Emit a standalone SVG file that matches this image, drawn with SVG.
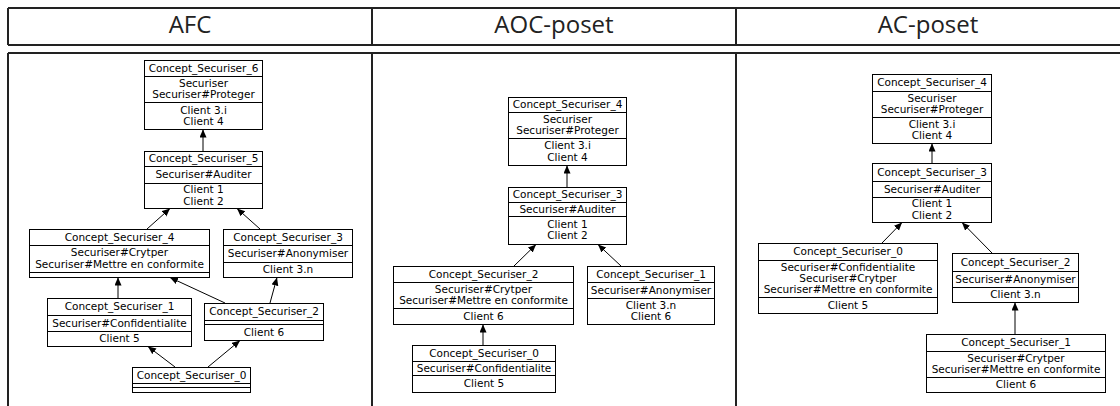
<svg xmlns="http://www.w3.org/2000/svg" width="1120" height="406" viewBox="0 0 1120 406">
<style>
.grid{stroke:#222;stroke-width:2;fill:none}
.hd{font-family:"Open Sans","Noto Sans",sans-serif;font-weight:400;font-size:24px;fill:#222;text-anchor:middle}
.box{fill:#fff;stroke:#000;stroke-width:1}
.sep{stroke:#000;stroke-width:1}
.t{font-family:"DejaVu Sans",sans-serif;font-size:10.5px;fill:#000;text-anchor:middle}
.edge{stroke:#000;stroke-width:1;fill:none;marker-end:url(#arr)}
</style>
<defs>
<marker id="arr" markerUnits="userSpaceOnUse" markerWidth="9" markerHeight="8" refX="8" refY="3.5" orient="auto">
<path d="M0,0 L8,3.5 L0,7 z" fill="#000"/>
</marker>
</defs>
<rect width="1120" height="406" fill="#fff"/>
<g id="table">
<path class="grid" d="M8,8 H1122 M8,45 H1122 M8,8 V45 M372,8 V45 M736,8 V45"/>
<path class="grid" d="M8,53 H1122 M8,53 V408 M372,53 V408 M736,53 V408"/>
<text class="hd" x="190" y="33">AFC</text>
<text class="hd" x="554" y="33">AOC-poset</text>
<text class="hd" x="928" y="33">AC-poset</text>
</g>
<g id="connectors">
<line class="edge" x1="203" y1="151" x2="203" y2="129.5"/>
<line class="edge" x1="147" y1="229" x2="170" y2="208.5"/>
<line class="edge" x1="260" y1="229" x2="237" y2="208.5"/>
<line class="edge" x1="118" y1="298" x2="118" y2="277.5"/>
<line class="edge" x1="225" y1="303" x2="170" y2="277.5"/>
<line class="edge" x1="270" y1="303" x2="277" y2="277.5"/>
<line class="edge" x1="175" y1="367" x2="148" y2="346.5"/>
<line class="edge" x1="208" y1="367" x2="240" y2="340.5"/>
<line class="edge" x1="567" y1="187" x2="567" y2="165.5"/>
<line class="edge" x1="514" y1="266" x2="536" y2="244.5"/>
<line class="edge" x1="621" y1="266" x2="598" y2="244.5"/>
<line class="edge" x1="483" y1="345" x2="483" y2="324.5"/>
<line class="edge" x1="932" y1="163" x2="932" y2="143.5"/>
<line class="edge" x1="882" y1="243" x2="902" y2="222.5"/>
<line class="edge" x1="992" y1="253" x2="962" y2="222.5"/>
<line class="edge" x1="1015" y1="334" x2="1015" y2="302.5"/>
</g>
<g id="afc_c6">
<rect class="box" x="144.5" y="60.5" width="118" height="69"/>
<path class="sep" d="M144.5,76.5 H262.5 M144.5,102.5 H262.5"/>
<text class="t" x="203.5" y="71.5">Concept_Securiser_6</text>
<text class="t" x="203.5" y="87.1">Securiser</text>
<text class="t" x="203.5" y="98.4">Securiser#Proteger</text>
<text class="t" x="203.5" y="113.6">Client 3.i</text>
<text class="t" x="203.5" y="124.9">Client 4</text>
</g>
<g id="afc_c5">
<rect class="box" x="144.5" y="151.5" width="118" height="57"/>
<path class="sep" d="M144.5,166.5 H262.5 M144.5,183.5 H262.5"/>
<text class="t" x="203.5" y="162">Concept_Securiser_5</text>
<text class="t" x="203.5" y="178">Securiser#Auditer</text>
<text class="t" x="203.5" y="193.4">Client 1</text>
<text class="t" x="203.5" y="204.7">Client 2</text>
</g>
<g id="afc_c4">
<rect class="box" x="29.5" y="229.5" width="180" height="48"/>
<path class="sep" d="M29.5,245.5 H209.5 M29.5,272.5 H209.5"/>
<text class="t" x="119.5" y="240.5">Concept_Securiser_4</text>
<text class="t" x="119.5" y="256.4">Securiser#Crytper</text>
<text class="t" x="119.5" y="267.7">Securiser#Mettre en conformite</text>
</g>
<g id="afc_c3">
<rect class="box" x="223.5" y="229.5" width="129" height="48"/>
<path class="sep" d="M223.5,245.5 H352.5 M223.5,262.5 H352.5"/>
<text class="t" x="288" y="240.5">Concept_Securiser_3</text>
<text class="t" x="288" y="257">Securiser#Anonymiser</text>
<text class="t" x="288" y="273">Client 3.n</text>
</g>
<g id="afc_c1">
<rect class="box" x="47.5" y="298.5" width="144" height="48"/>
<path class="sep" d="M47.5,315.5 H191.5 M47.5,331.5 H191.5"/>
<text class="t" x="119.5" y="310">Concept_Securiser_1</text>
<text class="t" x="119.5" y="326.5">Securiser#Confidentialite</text>
<text class="t" x="119.5" y="342">Client 5</text>
</g>
<g id="afc_c2">
<rect class="box" x="204.5" y="303.5" width="119" height="37"/>
<path class="sep" d="M204.5,320.5 H323.5 M204.5,324.5 H323.5"/>
<text class="t" x="264" y="315">Concept_Securiser_2</text>
<text class="t" x="264" y="335.5">Client 6</text>
</g>
<g id="afc_c0">
<rect class="box" x="132.5" y="367.5" width="118" height="25"/>
<path class="sep" d="M132.5,383.5 H250.5 M132.5,387.5 H250.5"/>
<text class="t" x="191.5" y="378.5">Concept_Securiser_0</text>
</g>
<g id="aoc_c4">
<rect class="box" x="508.5" y="97.5" width="118" height="68"/>
<path class="sep" d="M508.5,112.5 H626.5 M508.5,138.5 H626.5"/>
<text class="t" x="567.5" y="108">Concept_Securiser_4</text>
<text class="t" x="567.5" y="122.9">Securiser</text>
<text class="t" x="567.5" y="134.2">Securiser#Proteger</text>
<text class="t" x="567.5" y="149.4">Client 3.i</text>
<text class="t" x="567.5" y="160.7">Client 4</text>
</g>
<g id="aoc_c3">
<rect class="box" x="508.5" y="187.5" width="118" height="57"/>
<path class="sep" d="M508.5,202.5 H626.5 M508.5,216.5 H626.5"/>
<text class="t" x="567.5" y="198">Concept_Securiser_3</text>
<text class="t" x="567.5" y="212.5">Securiser#Auditer</text>
<text class="t" x="567.5" y="227.9">Client 1</text>
<text class="t" x="567.5" y="239.2">Client 2</text>
</g>
<g id="aoc_c2">
<rect class="box" x="393.5" y="266.5" width="180" height="58"/>
<path class="sep" d="M393.5,282.5 H573.5 M393.5,308.5 H573.5"/>
<text class="t" x="483.5" y="277.5">Concept_Securiser_2</text>
<text class="t" x="483.5" y="292.9">Securiser#Crytper</text>
<text class="t" x="483.5" y="304.2">Securiser#Mettre en conformite</text>
<text class="t" x="483.5" y="319.5">Client 6</text>
</g>
<g id="aoc_c1">
<rect class="box" x="587.5" y="266.5" width="127" height="58"/>
<path class="sep" d="M587.5,282.5 H714.5 M587.5,298.5 H714.5"/>
<text class="t" x="651" y="277.5">Concept_Securiser_1</text>
<text class="t" x="651" y="293.5">Securiser#Anonymiser</text>
<text class="t" x="651" y="308.9">Client 3.n</text>
<text class="t" x="651" y="320.2">Client 6</text>
</g>
<g id="aoc_c0">
<rect class="box" x="412.5" y="345.5" width="143" height="47"/>
<path class="sep" d="M412.5,361.5 H555.5 M412.5,375.5 H555.5"/>
<text class="t" x="484" y="356.5">Concept_Securiser_0</text>
<text class="t" x="484" y="371.5">Securiser#Confidentialite</text>
<text class="t" x="484" y="387">Client 5</text>
</g>
<g id="ac_c4">
<rect class="box" x="872.5" y="74.5" width="119" height="69"/>
<path class="sep" d="M872.5,91.5 H991.5 M872.5,117.5 H991.5"/>
<text class="t" x="932" y="86">Concept_Securiser_4</text>
<text class="t" x="932" y="101.9">Securiser</text>
<text class="t" x="932" y="113.2">Securiser#Proteger</text>
<text class="t" x="932" y="127.9">Client 3.i</text>
<text class="t" x="932" y="139.2">Client 4</text>
</g>
<g id="ac_c3">
<rect class="box" x="872.5" y="163.5" width="119" height="59"/>
<path class="sep" d="M872.5,181.5 H991.5 M872.5,197.5 H991.5"/>
<text class="t" x="932" y="175.5">Concept_Securiser_3</text>
<text class="t" x="932" y="192.5">Securiser#Auditer</text>
<text class="t" x="932" y="207.4">Client 1</text>
<text class="t" x="932" y="218.7">Client 2</text>
</g>
<g id="ac_c0">
<rect class="box" x="758.5" y="243.5" width="179" height="70"/>
<path class="sep" d="M758.5,260.5 H937.5 M758.5,297.5 H937.5"/>
<text class="t" x="848" y="255">Concept_Securiser_0</text>
<text class="t" x="848" y="270.7">Securiser#Confidentialite</text>
<text class="t" x="848" y="282">Securiser#Crytper</text>
<text class="t" x="848" y="293.3">Securiser#Mettre en conformite</text>
<text class="t" x="848" y="308.5">Client 5</text>
</g>
<g id="ac_c2">
<rect class="box" x="952.5" y="253.5" width="126" height="49"/>
<path class="sep" d="M952.5,271.5 H1078.5 M952.5,287.5 H1078.5"/>
<text class="t" x="1015.5" y="265.5">Concept_Securiser_2</text>
<text class="t" x="1015.5" y="282.5">Securiser#Anonymiser</text>
<text class="t" x="1015.5" y="298">Client 3.n</text>
</g>
<g id="ac_c1">
<rect class="box" x="926.5" y="334.5" width="179" height="58"/>
<path class="sep" d="M926.5,351.5 H1105.5 M926.5,377.5 H1105.5"/>
<text class="t" x="1016" y="346">Concept_Securiser_1</text>
<text class="t" x="1016" y="361.9">Securiser#Crytper</text>
<text class="t" x="1016" y="373.2">Securiser#Mettre en conformite</text>
<text class="t" x="1016" y="388">Client 6</text>
</g>
</svg>
